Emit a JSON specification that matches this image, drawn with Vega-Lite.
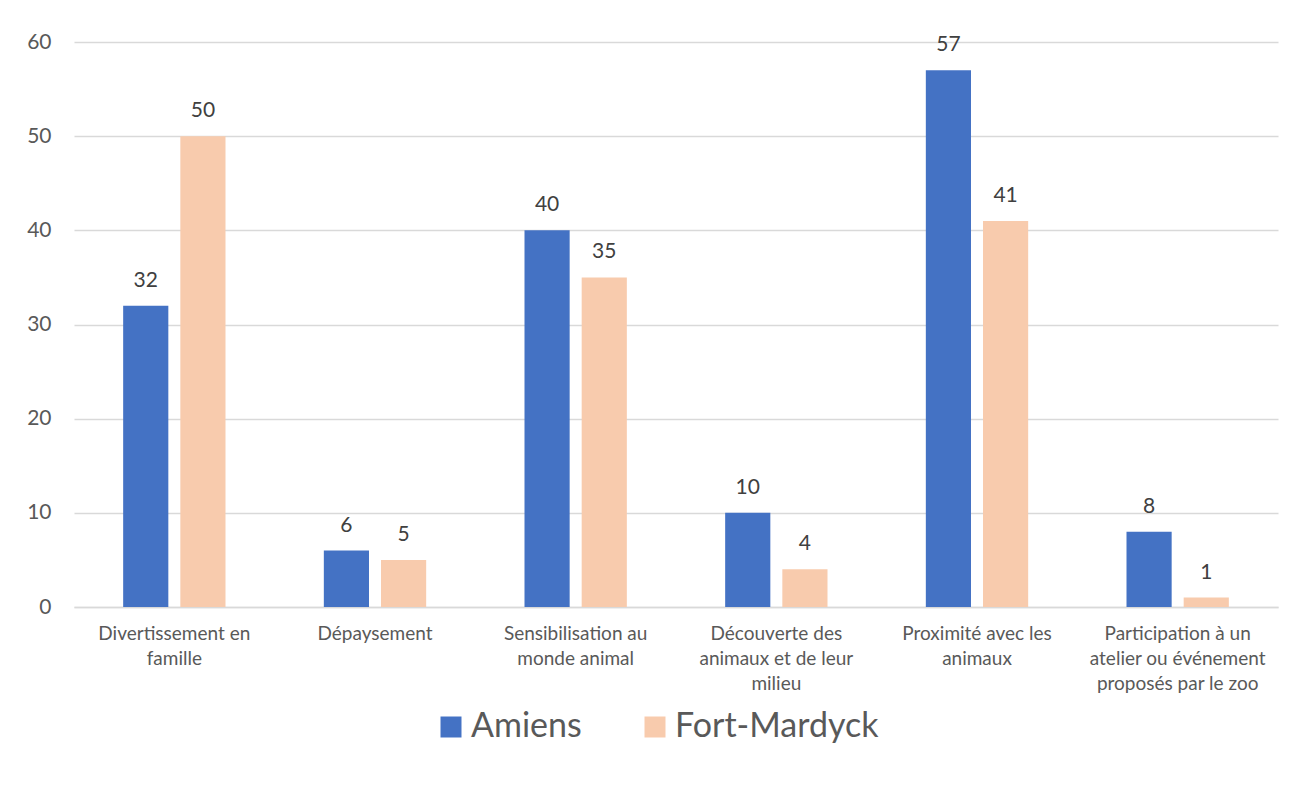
{
  "$schema": "https://vega.github.io/schema/vega-lite/v6.json",
  "width": 1204,
  "height": 565,
  "autosize": {"type": "none"},
  "padding": {"left": 74, "top": 42, "right": 18, "bottom": 179},
  "background": "white",
  "config": {
    "font": "Lato",
    "view": {"stroke": null}
  },
  "data": {
    "values": [
      {"categorie": "Divertissement en|famille", "ville": "Amiens", "valeur": 32},
      {"categorie": "Divertissement en|famille", "ville": "Fort-Mardyck", "valeur": 50},
      {"categorie": "Dépaysement", "ville": "Amiens", "valeur": 6},
      {"categorie": "Dépaysement", "ville": "Fort-Mardyck", "valeur": 5},
      {"categorie": "Sensibilisation au|monde animal", "ville": "Amiens", "valeur": 40},
      {"categorie": "Sensibilisation au|monde animal", "ville": "Fort-Mardyck", "valeur": 35},
      {"categorie": "Découverte des|animaux et de leur|milieu", "ville": "Amiens", "valeur": 10},
      {"categorie": "Découverte des|animaux et de leur|milieu", "ville": "Fort-Mardyck", "valeur": 4},
      {"categorie": "Proximité avec les|animaux", "ville": "Amiens", "valeur": 57},
      {"categorie": "Proximité avec les|animaux", "ville": "Fort-Mardyck", "valeur": 41},
      {"categorie": "Participation à un|atelier ou événement|proposés par le zoo", "ville": "Amiens", "valeur": 8},
      {"categorie": "Participation à un|atelier ou événement|proposés par le zoo", "ville": "Fort-Mardyck", "valeur": 1}
    ]
  },
  "encoding": {
    "x": {
      "field": "categorie",
      "type": "nominal",
      "sort": null,
      "scale": {"paddingInner": 0.49, "paddingOuter": 0.245},
      "axis": {
        "title": null,
        "labelAngle": 0,
        "labelExpr": "split(datum.label, '|')",
        "labelFontSize": 19,
        "labelColor": "#595959",
        "labelLineHeight": 25,
        "labelPadding": 17,
        "labelBaseline": "top",
        "labelLimit": 0,
        "ticks": false,
        "domainColor": "#D9D9D9",
        "domainWidth": 1.5,
        "grid": false
      }
    },
    "xOffset": {
      "field": "ville",
      "type": "nominal",
      "scale": {"paddingInner": 0.21, "paddingOuter": 0}
    },
    "y": {
      "field": "valeur",
      "type": "quantitative",
      "scale": {"domain": [0, 60]},
      "axis": {
        "title": null,
        "values": [0, 10, 20, 30, 40, 50, 60],
        "labelFontSize": 21,
        "labelColor": "#595959",
        "labelPadding": 23,
        "ticks": false,
        "domain": false,
        "gridColor": "#D9D9D9",
        "gridWidth": 1.5
      }
    }
  },
  "layer": [
    {
      "mark": {"type": "bar"},
      "encoding": {
        "color": {
          "field": "ville",
          "type": "nominal",
          "scale": {"domain": ["Amiens", "Fort-Mardyck"], "range": ["#4472C4", "#F8CBAD"]},
          "legend": {
            "title": null,
            "orient": "none",
            "legendX": 360,
            "legendY": 668,
            "direction": "horizontal",
            "symbolType": "square",
            "symbolSize": 441,
            "symbolStrokeWidth": 0,
            "labelFontSize": 34,
            "labelColor": "#595959",
            "labelLimit": 0,
            "columnPadding": 56,
            "labelOffset": 3
          }
        }
      }
    },
    {
      "mark": {"type": "text", "baseline": "middle", "dy": -25, "fontSize": 21, "color": "#404040"},
      "encoding": {
        "text": {"field": "valeur", "type": "quantitative"}
      }
    }
  ]
}
